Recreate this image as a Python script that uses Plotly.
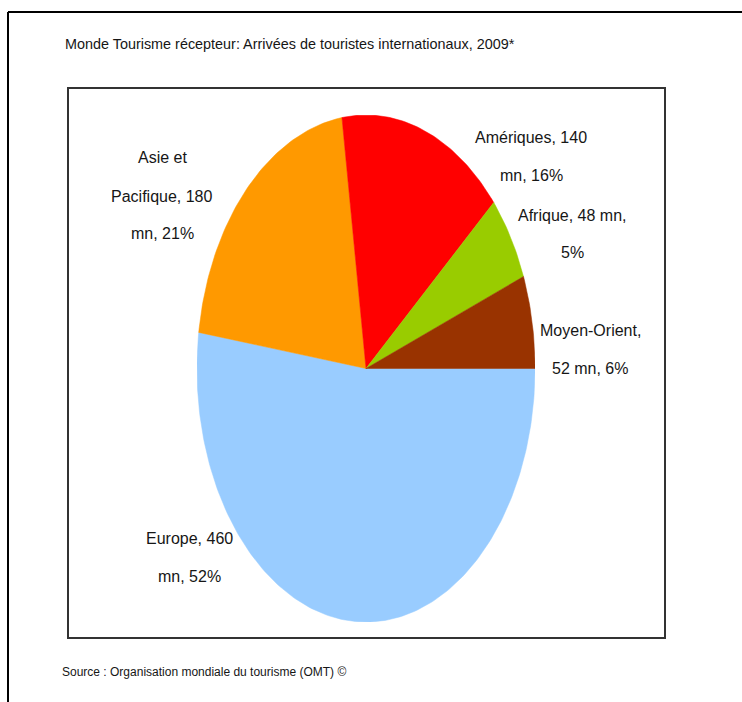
import numpy as np
import plotly.graph_objects as go

# ---- data ----
regions = ["Europe", "Asie et Pacifique", "Amériques", "Afrique", "Moyen-Orient"]
arrivals_mn = [460, 180, 140, 48, 52]
shares_pct = [52, 21, 16, 5, 6]
colors = ["#99CCFF", "#FF9900", "#FF0000", "#99CC00", "#993300"]
label_lines = [
    ["Europe, 460", "mn, 52%"],
    ["Asie et", "Pacifique, 180", "mn, 21%"],
    ["Amériques, 140", "mn, 16%"],
    ["Afrique, 48 mn,", "5%"],
    ["Moyen-Orient,", "52 mn, 6%"],
]
title_text = "Monde Tourisme récepteur: Arrivées de touristes internationaux, 2009*"
source_text = "Source : Organisation mondiale du tourisme (OMT) ©"

W, H = 742, 702
FONT = "Liberation Sans, Arial, sans-serif"
TXT = "#161616"


def px(x):
    return x / W


def py(y):
    return 1 - y / H


fig = go.Figure()

# pie wedges drawn as filled polygons on a [-1,1] axis whose domain is the ellipse box
total = float(sum(arrivals_mn))
start = 0.0
for name, v, c in zip(regions, arrivals_mn, colors):
    span = v / total * 2 * np.pi
    n = max(int(span / (2 * np.pi) * 360), 4)
    th = np.linspace(start, start + span, n)
    xs = np.concatenate([[0], np.cos(th), [0]])
    ys = np.concatenate([[0], -np.sin(th), [0]])
    fig.add_trace(go.Scatter(x=xs, y=ys, mode="lines", fill="toself",
                             fillcolor=c, line=dict(width=0.5, color=c),
                             name=name, hoverinfo="name", showlegend=False))
    start += span

# label positions (pixel centres of each label's first line) and spacing
label_pos = [(189, 538), (162, 158), (531, 137), (572, 215), (590, 330)]
LINE_GAP = 38
for lines, (lx, ly) in zip(label_lines, label_pos):
    for i, t in enumerate(lines):
        fig.add_annotation(x=px(lx), y=py(ly + i * LINE_GAP), xref="paper", yref="paper",
                           text=t, showarrow=False, xanchor="center", yanchor="middle",
                           font=dict(family=FONT, size=16, color=TXT))

# title and source
fig.add_annotation(x=px(63), y=py(44), xref="paper", yref="paper", text=title_text,
                   showarrow=False, xanchor="left", yanchor="middle",
                   font=dict(family=FONT, size=14.4, color=TXT))
fig.add_annotation(x=px(60), y=py(672), xref="paper", yref="paper", text=source_text,
                   showarrow=False, xanchor="left", yanchor="middle",
                   font=dict(family=FONT, size=12, color=TXT))

# frames
fig.add_shape(type="rect", xref="paper", yref="paper",
              x0=px(68), x1=px(665), y0=py(638), y1=py(88),
              line=dict(color="#333333", width=2), fillcolor="rgba(0,0,0,0)", layer="below")
fig.add_shape(type="line", xref="paper", yref="paper",
              x0=px(8), x1=1.0, y0=py(12), y1=py(12), line=dict(color="#000000", width=2))
fig.add_shape(type="line", xref="paper", yref="paper",
              x0=px(8), x1=px(8), y0=py(12), y1=0, line=dict(color="#000000", width=2))

fig.update_layout(
    width=W, height=H,
    margin=dict(l=0, r=0, t=0, b=0),
    paper_bgcolor="white", plot_bgcolor="rgba(0,0,0,0)",
    xaxis=dict(domain=[px(197), px(535)], range=[-1, 1], visible=False, fixedrange=True),
    yaxis=dict(domain=[py(622), py(115)], range=[-1, 1], visible=False, fixedrange=True),
    showlegend=False,
)

fig.write_html("out.html", config={"displayModeBar": False},
               post_script="document.body.style.margin='0';document.body.style.overflow='hidden';")
